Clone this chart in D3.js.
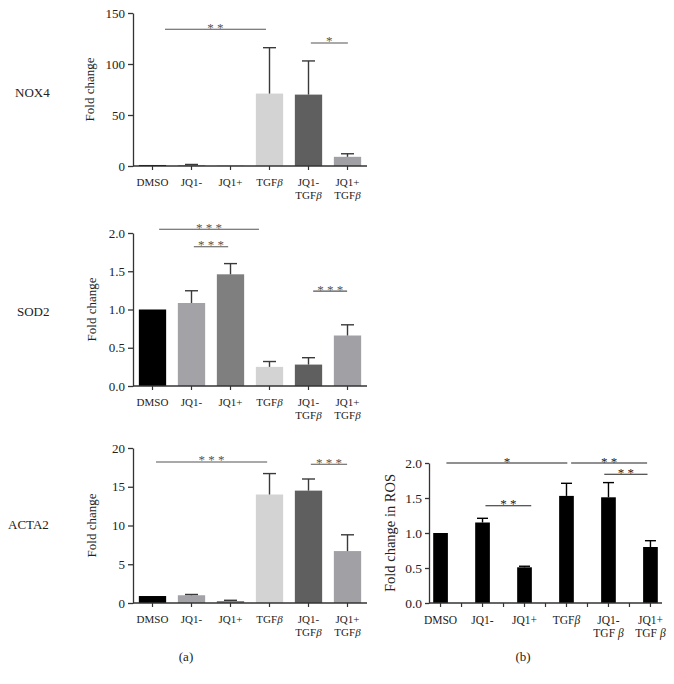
<!DOCTYPE html>
<html><head><meta charset="utf-8">
<script src="https://cdn.jsdelivr.net/npm/d3@7"></script>
<style>body{margin:0;background:#fff}svg{display:block}svg text{font-family:"Liberation Serif","Times New Roman",serif !important}</style>
</head><body>
<svg id="c" width="674" height="684" font-family="Liberation Serif, serif"></svg>
<script>
// ---------- data ----------
const categories = ["DMSO","JQ1-","JQ1+","TGFβ","JQ1-\nTGFβ","JQ1+\nTGFβ"];
const rosCategories = ["DMSO","JQ1-","JQ1+","TGFβ","JQ1-\nTGF β","JQ1+\nTGF β"];
const barColors = ["#000000","#a2a2a7","#7f7f7f","#d3d3d3","#5f5f5f","#a0a0a5"];

const nox4Mean = [1, 1, 0.3, 71, 70, 9];
const nox4Err  = [1, 1.5, 0.3, 116, 103, 12];
const nox4Ticks = [0, 50, 100, 150];
const nox4Sig = [[0.32, 2.91, 134, "* *"], [4.06, 5.01, 120.6, "*"]];

const sod2Mean = [1.0, 1.085, 1.46, 0.25, 0.28, 0.66];
const sod2Err  = [1.0, 1.245, 1.60, 0.32, 0.37, 0.80];
const sod2Ticks = [0, 0.5, 1.0, 1.5, 2.0];
const sod2Sig = [[0.17, 2.73, 2.05, "* * *"], [1.06, 1.94, 1.82, "* * *"], [4.12, 4.99, 1.24, "* * *"]];

const acta2Mean = [0.9, 1.0, 0.25, 14.0, 14.5, 6.7];
const acta2Err  = [0.9, 1.1, 0.35, 16.7, 16.0, 8.8];
const acta2Ticks = [0, 5, 10, 15, 20];
const acta2Sig = [[0.09, 2.94, 18.2, "* * *"], [4.06, 4.99, 17.9, "* * *"]];

const rosMean = [1.0, 1.15, 0.51, 1.53, 1.51, 0.80];
const rosErr  = [1.0, 1.21, 0.525, 1.71, 1.72, 0.89];
const rosTicks = [0, 0.5, 1.0, 1.5, 2.0];
const rosSig = [[0.14, 3.02, 2.0, "*"], [3.11, 4.92, 2.0, "* *"], [3.90, 4.93, 1.84, "* *"], [1.07, 2.16, 1.39, "* *"]];

// ---------- drawing ----------
const FONT = '"Liberation Serif", "Times New Roman", serif';
const svg = d3.select("#c");

function labelLines(g, label, x, y0, fs) {
  const lines = label.split("\n");
  lines.forEach((ln, i) => {
    const t = g.append("text").attr("x", x).attr("y", y0 + i * 12.5)
      .attr("text-anchor", "middle").attr("font-size", fs).attr("fill", "#222")
      .attr("font-family", FONT);
    const parts = ln.split("β");
    parts.forEach((p, j) => {
      if (p) t.append("tspan").text(p);
      if (j < parts.length - 1) t.append("tspan").attr("font-style", "italic").text("β");
    });
  });
}

function panel(o) {
  const g = svg.append("g");
  const x = d3.scaleBand().domain(o.cats).range([o.x0, o.x1])
    .paddingInner(o.pi).paddingOuter(o.po);
  const y = d3.scaleLinear().domain([0, o.max]).range([o.yb, o.yt]);
  const cx = c => x(c) + x.bandwidth() / 2;
  const xi = d3.scaleLinear().domain([0, o.cats.length - 1])
    .range([cx(o.cats[0]), cx(o.cats[o.cats.length - 1])]);

  // bars
  g.selectAll("rect.bar").data(o.mean).join("rect")
    .attr("x", (d, i) => x(o.cats[i])).attr("width", x.bandwidth())
    .attr("y", d => y(d)).attr("height", d => o.yb - y(d))
    .attr("fill", (d, i) => o.colors[i]);

  // error bars (upper only)
  o.err.forEach((e, i) => {
    if (e <= o.mean[i]) return;
    const c = cx(o.cats[i]);
    g.append("line").attr("x1", c).attr("x2", c).attr("y1", y(o.mean[i])).attr("y2", y(e))
      .attr("stroke", o.errColor).attr("stroke-width", 1.4);
    g.append("line").attr("x1", c - o.cap).attr("x2", c + o.cap).attr("y1", y(e)).attr("y2", y(e))
      .attr("stroke", o.errColor).attr("stroke-width", 1.4);
  });

  // y axis
  const ya = g.append("g").attr("transform", `translate(${o.x0},0)`)
    .call(d3.axisLeft(y).tickValues(o.ticks).tickFormat(o.fmt).tickSize(o.tickLen).tickSizeOuter(0));
  ya.attr("font-family", FONT);
  ya.select(".domain").attr("stroke", "#333").attr("stroke-width", 1.3);
  ya.selectAll(".tick line").attr("stroke", "#333").attr("stroke-width", 1.3);
  ya.selectAll(".tick text").attr("font-size", o.yfs).attr("fill", "#222")
    .attr("font-family", FONT).attr("x", -(o.tickLen + 3));

  // x axis
  g.append("line").attr("x1", o.x0).attr("x2", o.x1).attr("y1", o.yb).attr("y2", o.yb)
    .attr("stroke", "#333").attr("stroke-width", 1.3);
  const xt = [];
  o.cats.forEach((c, i) => {
    xt.push(cx(c));
    if (o.midTicks && i < o.cats.length - 1) xt.push((cx(c) + cx(o.cats[i + 1])) / 2);
  });
  xt.forEach(t => g.append("line").attr("x1", t).attr("x2", t).attr("y1", o.yb).attr("y2", o.yb + 4)
    .attr("stroke", "#333").attr("stroke-width", 1.2));
  o.cats.forEach(c => labelLines(g, c, cx(c), o.yb + o.lblOff, o.xfs));

  // y label
  g.append("text").attr("transform", `translate(${o.ylx},${(o.yb + o.yt) / 2}) rotate(-90)`)
    .attr("text-anchor", "middle").attr("dominant-baseline", "middle").attr("font-family", FONT)
    .attr("font-size", o.ylfs).attr("fill", "#222").text(o.ylabel);

  // significance
  o.sig.forEach(s => {
    const a = xi(s[0]), b = xi(s[1]), yy = y(s[2]);
    g.append("line").attr("x1", a).attr("x2", b).attr("y1", yy).attr("y2", yy)
      .attr("stroke", o.sigColor).attr("stroke-width", 1.1);
    g.append("text").attr("x", (a + b) / 2).attr("y", yy + 2.5).attr("text-anchor", "middle")
      .attr("font-family", FONT).attr("font-size", 13).attr("fill", o.sigColor).text(s[3]);
  });

  if (o.row) svg.append("text").attr("x", o.row[1]).attr("y", o.row[2]).attr("dominant-baseline", "middle")
    .attr("font-family", FONT).attr("font-size", 13).attr("fill", "#222").text(o.row[0]);
}

const common = {cats: categories, colors: barColors, x0: 133, x1: 367, pi: 0.3, po: 0.15,
  tickLen: 5, yfs: 13, xfs: 11, ylfs: 13, lblOff: 20, cap: 6.5, errColor: "#3a3a3a",
  sigColor: "#555", ylabel: "Fold change", midTicks: false};

panel(Object.assign({}, common, {mean: nox4Mean, err: nox4Err, ticks: nox4Ticks, sig: nox4Sig,
  max: 150, yb: 166, yt: 13, fmt: d3.format("d"), ylx: 91, row: ["NOX4", 15, 94]}));
panel(Object.assign({}, common, {mean: sod2Mean, err: sod2Err, ticks: sod2Ticks, sig: sod2Sig,
  max: 2, yb: 386, yt: 233, fmt: d3.format(".1f"), ylx: 93, row: ["SOD2", 17, 313]}));
panel(Object.assign({}, common, {mean: acta2Mean, err: acta2Err, ticks: acta2Ticks, sig: acta2Sig,
  max: 20, yb: 603, yt: 448, fmt: d3.format("d"), ylx: 93, row: ["ACTA2", 8, 526]}));
panel(Object.assign({}, common, {cats: rosCategories, colors: rosMean.map(() => "#000"),
  mean: rosMean, err: rosErr, ticks: rosTicks, sig: rosSig, x0: 429, x1: 662, pi: 0.65, po: 0.1,
  max: 2, yb: 603, yt: 463, fmt: d3.format(".1f"), tickLen: 4, yfs: 13.5, xfs: 11.5, ylfs: 14.5,
  ylx: 392, cap: 5.5, errColor: "#000", sigColor: "#222", ylabel: "Fold change in ROS", midTicks: true, lblOff: 21}));

svg.append("text").attr("x", 186).attr("y", 661).attr("text-anchor", "middle").attr("font-family", FONT).attr("font-size", 13).attr("fill", "#222").text("(a)");
svg.append("text").attr("x", 523).attr("y", 661).attr("text-anchor", "middle").attr("font-family", FONT).attr("font-size", 13).attr("fill", "#222").text("(b)");
</script>
</body></html>
